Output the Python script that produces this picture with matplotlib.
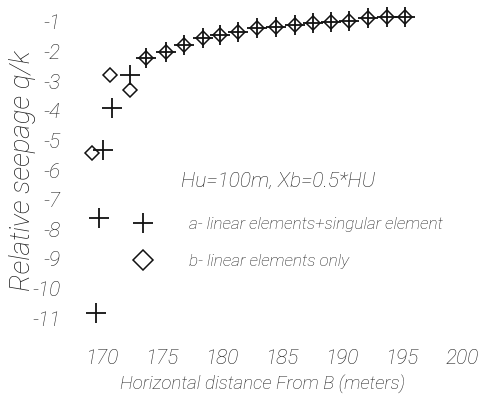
import matplotlib.pyplot as plt
from matplotlib.lines import Line2D

# a- linear elements + singular element  (plus markers)
plus_x = [169.5, 169.75, 170.1, 170.8, 172.3,
          173.7, 175.3, 176.8, 178.4, 179.8, 181.3, 182.9, 184.5,
          186.1, 187.6, 189.1, 190.6, 192.2, 193.75, 195.25]
plus_y = [-10.83, -7.62, -5.32, -3.9, -2.79,
          -2.22, -2.01, -1.78, -1.54, -1.44, -1.34, -1.2, -1.17,
          -1.1, -1.03, -1.0, -0.97, -0.86, -0.83, -0.83]

# b- linear elements only  (diamond markers)
diam_x = [169.2, 170.7, 172.3,
          173.7, 175.3, 176.8, 178.4, 179.8, 181.3, 182.9, 184.5,
          186.1, 187.6, 189.1, 190.6, 192.2, 193.75, 195.25]
diam_y = [-5.43, -2.79, -3.3,
          -2.22, -2.01, -1.78, -1.54, -1.44, -1.34, -1.2, -1.17,
          -1.1, -1.03, -1.0, -0.97, -0.86, -0.83, -0.83]

x_ticks = [170, 175, 180, 185, 190, 195, 200]
y_ticks = [-1, -2, -3, -4, -5, -6, -7, -8, -9, -10, -11]

text_col = '#1e1e1e'
mark_col = '#111111'
font = dict(family='Roboto', style='italic', weight='light')

fig = plt.figure(figsize=(4.81, 3.95), dpi=100)
ax = fig.add_axes([70/481, 65/395, 411/481, 330/395])

ax.plot(diam_x, diam_y, linestyle='none', marker='D', markersize=7,
        markerfacecolor='none', markeredgecolor=mark_col, markeredgewidth=1.1)
ax.plot(plus_x, plus_y, linestyle='none', marker='+', markersize=14,
        color=mark_col, markeredgewidth=1.3)

ax.set_xlim(167.33, 201.58)
ax.set_ylim(-11.405, -0.257)

for s in ax.spines.values():
    s.set_visible(False)

ax.set_xticks(x_ticks)
ax.set_xticklabels([str(t) for t in x_ticks], color=text_col, fontsize=15, **font)
ax.set_yticks(y_ticks)
ax.set_yticklabels([str(t) for t in y_ticks], color=text_col, fontsize=15, **font)
ax.tick_params(axis='x', length=0, pad=14)
ax.tick_params(axis='y', length=0, pad=7)

fig.text(263/481, 1 - 385/395, 'Horizontal distance From B (meters)',
         ha='center', va='center', color=text_col, fontsize=13.5, **font)
fig.text(23/481, 1 - 171/395, 'Relative seepage q/k', rotation=90,
         ha='center', va='center', color=text_col, fontsize=20, **font)

fig.text(181/481, 1 - 181/395, 'Hu=100m, Xb=0.5*HU', ha='left', va='center',
         color=text_col, fontsize=15, **font)

handles = [Line2D([], [], linestyle='none', marker='+', markersize=14,
                  color=mark_col, markeredgewidth=1.3),
           Line2D([], [], linestyle='none', marker='D', markersize=10,
                  markerfacecolor='none', markeredgecolor=mark_col,
                  markeredgewidth=1.1)]
leg = fig.legend(handles, ['a- linear elements+singular element',
                           'b- linear elements only'],
                 loc='upper left', bbox_to_anchor=(117/481, 1 - 208/395),
                 frameon=False, borderpad=0, handlelength=2,
                 handletextpad=1.7, labelspacing=1.3,
                 prop=dict(size=12.3, **font))
for t in leg.get_texts():
    t.set_color(text_col)

fig.savefig('out.png', dpi=100)
